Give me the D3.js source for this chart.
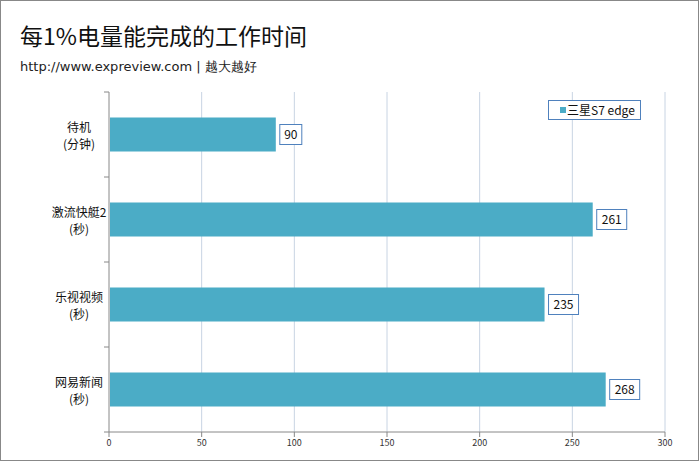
<!DOCTYPE html><html><head><meta charset="utf-8">
<script src="https://cdn.jsdelivr.net/npm/d3@7"></script>
<style>body{margin:0;background:#fff}svg{font-family:"Noto Sans CJK SC","DejaVu Sans",sans-serif}</style></head><body>
<script>
const categories=[["待机","(分钟)"],["激流快艇2","(秒)"],["乐视视频","(秒)"],["网易新闻","(秒)"]];
const values=[90,261,235,268];
const ticks=[0,50,100,150,200,250,300];
const seriesName="三星S7 edge";
const W=699,H=461;
const svg=d3.select("body").append("svg").attr("width",W).attr("height",H);
svg.append("rect").attr("x",0.5).attr("y",0.5).attr("width",W-1).attr("height",H-1).attr("fill","#fff").attr("stroke","#888");
svg.append("text").attr("x",20).attr("y",45).attr("font-size",23).attr("fill","#111").text("每1%电量能完成的工作时间");
svg.append("text").attr("x",20).attr("y",71).attr("font-size",13).attr("fill","#222").attr("font-family","Verdana,'DejaVu Sans'").text("http://www.expreview.com  |  越大越好");
const x=d3.scaleLinear().domain([0,300]).range([109,665]);
const y=d3.scaleBand().domain(d3.range(categories.length)).range([92,432]).paddingInner(0.6).paddingOuter(0.3);
svg.append("g").selectAll("line").data(ticks.slice(1)).join("line").attr("x1",d=>x(d)).attr("x2",d=>x(d)).attr("y1",92).attr("y2",432).attr("stroke","#c8d4e3");
svg.append("line").attr("x1",109).attr("x2",109).attr("y1",92).attr("y2",432).attr("stroke","#888");
svg.append("line").attr("x1",109).attr("x2",665).attr("y1",432).attr("y2",432).attr("stroke","#888");
svg.append("g").selectAll("line").data(d3.range(5)).join("line").attr("x1",104).attr("x2",109).attr("y1",d=>92+d*85).attr("y2",d=>92+d*85).attr("stroke","#888");
svg.append("g").selectAll("line").data(ticks).join("line").attr("x1",d=>x(d)).attr("x2",d=>x(d)).attr("y1",432).attr("y2",437).attr("stroke","#888");
svg.append("g").selectAll("text").data(ticks).join("text").attr("x",d=>x(d)).attr("y",446).attr("text-anchor","middle").attr("font-size",9).attr("fill","#333").text(d=>d);
svg.append("g").selectAll("rect").data(values).join("rect").attr("x",x(0)+1).attr("y",(d,i)=>y(i)).attr("width",d=>x(d)-x(0)-1).attr("height",y.bandwidth()).attr("fill","#4bacc6");
const lab=svg.append("g").selectAll("g").data(values).join("g").attr("transform",(d,i)=>`translate(${x(d)+4},${y(i)+y.bandwidth()/2})`);
lab.append("rect").attr("x",0).attr("y",-10).attr("width",d=>String(d).length*8+6).attr("height",20).attr("fill","#fff").attr("stroke","#4f81bd");
lab.append("text").attr("x",d=>(String(d).length*8+6)/2).attr("y",4.5).attr("text-anchor","middle").attr("font-size",12).attr("fill","#111").text(d=>d);
const cl=svg.append("g").selectAll("text").data(categories).join("text").attr("text-anchor","middle").attr("font-size",12).attr("fill","#111");
cl.append("tspan").attr("x",79).attr("y",(d,i)=>y(i)+y.bandwidth()/2-3).text(d=>d[0]);
cl.append("tspan").attr("x",79).attr("y",(d,i)=>y(i)+y.bandwidth()/2+14).text(d=>d[1]);
svg.append("rect").attr("x",548.5).attr("y",100.5).attr("width",92).attr("height",19).attr("fill","#fff").attr("stroke","#4f81bd");
svg.append("rect").attr("x",560).attr("y",107).attr("width",6).attr("height",6).attr("fill","#4bacc6");
svg.append("text").attr("x",567).attr("y",115).attr("font-size",12).attr("fill","#111").text(seriesName);
</script></body></html>
